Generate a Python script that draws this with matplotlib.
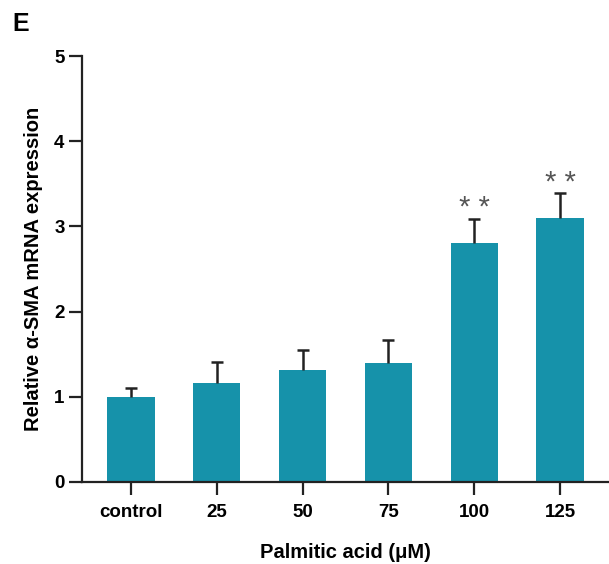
import matplotlib
matplotlib.use("Agg")
import matplotlib.pyplot as plt

plt.rcParams["font.family"] = ["Liberation Sans", "DejaVu Sans"]

categories = ["control", "25", "50", "75", "100", "125"]
means = [1.00, 1.16, 1.31, 1.40, 2.80, 3.10]
errors = [0.10, 0.25, 0.24, 0.27, 0.29, 0.29]
stars = ["", "", "", "", "* *", "* *"]

bar_color = "#1692aa"

fig = plt.figure(figsize=(6.09, 5.64), dpi=100)
ax = fig.add_axes([0.1346, 0.1454, 0.8654, 0.7553])

x = range(len(categories))
ax.bar(x, means, width=0.55, color=bar_color, zorder=2)
eb = ax.errorbar(x, means, yerr=[[0] * len(errors), errors], fmt="none",
                 ecolor="#222222", elinewidth=1.8, capsize=4.5, capthick=1.8,
                 zorder=3)
# only the upper cap is shown
eb[1][0].set_visible(False)

for xi, m, e, s in zip(x, means, errors, stars):
    if s:
        ax.text(xi, m + e - 0.04, s, ha="center", va="bottom",
                fontsize=21, color="#555555")

ax.set_xlim(-0.57, len(categories) - 0.43)
ax.set_ylim(0, 5)
ax.set_yticks([0, 1, 2, 3, 4, 5])
ax.set_xticks(list(x))
ax.set_xticklabels(categories)

for side in ["top", "right"]:
    ax.spines[side].set_visible(False)
for side in ["left", "bottom"]:
    ax.spines[side].set_linewidth(1.6)
    ax.spines[side].set_color("#222222")

ax.tick_params(axis="both", direction="out", length=9.5, width=1.6,
               color="#222222", labelsize=13.5, pad=3)
ax.tick_params(axis="x", pad=6)
for lab in ax.get_xticklabels() + ax.get_yticklabels():
    lab.set_fontweight("bold")

ax.set_ylabel("Relative α-SMA mRNA expression", fontsize=14.5,
              fontweight="bold", labelpad=8)
ax.set_xlabel("Palmitic acid (μM)", fontsize=14.5, fontweight="bold",
              labelpad=16)

fig.text(0.02, 0.978, "E", fontsize=18, fontweight="bold", va="top")

fig.savefig("out.png", dpi=100)
